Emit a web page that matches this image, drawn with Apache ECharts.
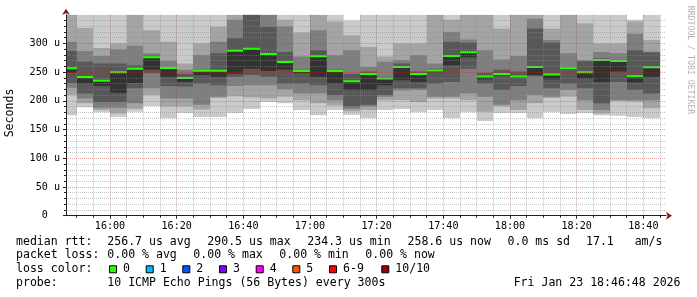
<!DOCTYPE html>
<html><head><meta charset="utf-8">
<script src="https://cdn.jsdelivr.net/npm/echarts@6/dist/echarts.min.js"></script>
<style>html,body{margin:0;padding:0;background:#fff}#c{width:697px;height:297px}</style>
</head><body><div id="c"></div>
<script>
// ---------------- data ----------------
const startTime = '15:46:48';
const endTime = '18:46:48';
// end time of every 5-minute step
const barEnd = ['15:50','15:55','16:00','16:05','16:10','16:15','16:20','16:25','16:30','16:35','16:40','16:45',
  '16:50','16:55','17:00','17:05','17:10','17:15','17:20','17:25','17:30','17:35','17:40','17:45',
  '17:50','17:55','18:00','18:05','18:10','18:15','18:20','18:25','18:30','18:35','18:40','18:45'];
// median rtt (us)
const median = [256.6,241.4,235.2,250,256,275.8,257,239.6,252.4,252.4,287.4,290.5,
  281.6,267.6,251.9,277.6,252,234.3,246.6,239,258.9,246.6,253,278,
  284.6,242.6,246.6,242.6,258.9,246,256.6,250,271,269.4,243,258.6];
// sorted rtt of the 10 pings of every step (us)
const pings = [
  [175,210,223,231,249,256.6,287,303,362,372],
  [189,196,204,213,230,241.4,268,287,327,362],
  [180,184,188,198,226,235.2,265,278,292,362],
  [172,178,188,198,214,250,265,290,300,362],
  [181,186,196,222,231,256,262,296,358,368],
  [191,210,222,248,254,275.8,279,283,323,362],
  [170,190,204,226,242,257,259,270,303,362],
  [179,190,204,225,233,239.6,247,254,265,362],
  [172,185,193,230,245,252.4,254,280,300,362],
  [172,205,207,227,242,252.4,283,303,329,362],
  [179,208,226,242,247,287.4,309,341,358,370],
  [186,206,227,245,256,290.5,355,362,368,375],
  [198,204,227,242,252,281.6,329,355,362,370],
  [196,207,220,230,254,267.6,285,330,341,362],
  [184,201,213,230,248,251.9,254,277,319,362],
  [175,196,213,227,242,277.6,288,323,356,366],
  [184,192,201,210,230,252,254,280,338,362],
  [176,182,186,190,219,234.3,247,288,314,340],
  [170,184,190,193,219,246.6,251,259,294,362],
  [184,201,207,210,227,239,242,268,277,362],
  [186,201,218,222,236,258.9,265,271,300,362],
  [180,198,219,222,233,246.6,251,280,300,362],
  [184,204,207,230,250,253,256,265,355,365],
  [170,204,207,233,262,278,303,320,341,362],
  [180,201,213,256,276,284.6,301,307,356,366],
  [165,181,207,230,237,242.6,249,288,356,368],
  [179,190,193,219,244,246.6,254,272,326,362],
  [179,184,201,226,240,242.6,251,278,355,365],
  [170,196,210,243,245,258.9,326,343,358,370],
  [180,205,207,222,237,246,301,306,326,362],
  [177,207,219,230,255,256.6,259,283,356,366],
  [179,184,201,222,239,250,269,271,335,362],
  [175,178,184,196,233,271,274,285,300,362],
  [174,200,201,233,251,269.4,271,283,300,362],
  [172,199,201,219,232,243,288,317,338,341],
  [170,187,201,213,242,258.6,284,286,306,362]
];
const timeTicks = ['16:00','16:20','16:40','17:00','17:20','17:40','18:00','18:20','18:40'];
const minorTimes = ['15:50','15:55','16:05','16:10','16:15','16:25','16:30','16:35','16:45','16:50','16:55',
  '17:05','17:10','17:15','17:25','17:30','17:35','17:45','17:50','17:55','18:05','18:10','18:15',
  '18:25','18:30','18:35','18:45'];
const yTicks = [0,50,100,150,200,250,300];
const yTickLabels = ['0  ',' 50 u','100 u','150 u','200 u','250 u','300 u'];
const yMax = 350;
const stepMinutes = 5;
const yTitle = 'Seconds';
const watermark = 'RRDTOOL / TOBI OETIKER';
const rttLabel = 'median rtt:';
const rttStats = ['256.7 us avg','290.5 us max','234.3 us min','258.6 us now','0.0 ms sd','17.1   am/s'];
const lossLabel = 'packet loss:';
const lossStats = ['0.00 % avg','0.00 % max','0.00 % min','0.00 % now'];
const lossColorLabel = 'loss color:';
const lossColors = [['0','#26ff00'],['1','#00b8ff'],['2','#0059ff'],['3','#7e00ff'],['4','#ff00ff'],['5','#ff5500'],['6-9','#ff0000'],['10/10','#a10000']];
const probeLabel = 'probe:';
const probeText = '10 ICMP Echo Pings (56 Bytes) every 300s';
const stamp = 'Fri Jan 23 18:46:48 2026';

// ---------------- helpers / style ----------------
const toMin = s => { const a = s.split(':').map(Number); return a[0]*60 + a[1] + (a[2]||0)/60; };
const fmtMin = v => { const h = Math.floor(v/60), m = Math.round(v - h*60); return String(h).padStart(2,'0') + ':' + String(m).padStart(2,'0'); };
const X_MIN = toMin(startTime), X_MAX = toMin(endTime);
const SMOKE = ['#cacaca','#a4a4a4','#7e7e7e','#585858','#323232'];
const MONO = '"DejaVu Sans Mono", monospace';
const AXIS_FONT = 10.1, LEG_FONT = 11.56;
const MINOR_GRID = 'rgba(140,140,140,0.5)';
const MAJOR_GRID = 'rgba(190,40,40,0.42)';
const ARROW = '#8b1a1a';
const MED_H = 2;

function renderItem(params, api) {
  const i = params.dataIndex;
  const t1 = api.value(0), t0 = t1 - stepMinutes;
  const a = Math.max(t0, X_MIN), b = Math.min(t1, X_MAX);
  const cy = v => Math.min(Math.max(v, 0), yMax);
  const p = pings[i];
  const kids = [];
  for (let k = 0; k < 5; k++) {
    const lo = api.coord([a, cy(p[k])]);
    const hi = api.coord([b, cy(p[9-k])]);
    const xl = Math.round(lo[0]), xr = Math.round(hi[0]);
    kids.push({type:'rect', shape:{x:xl, y:hi[1], width:xr-xl, height:lo[1]-hi[1]}, style:{fill:SMOKE[k]}});
  }
  const m0 = api.coord([a, median[i]]), m1 = api.coord([b, median[i]]);
  const xl = Math.round(m0[0]), xr = Math.round(m1[0]);
  kids.push({type:'rect', shape:{x:xl, y:m0[1]-MED_H/2, width:xr-xl, height:MED_H}, style:{fill:lossColors[0][1]}});
  return {type:'group', children:kids};
}

// legend graphics
const txt = (text, x, y, extra) => Object.assign({type:'text', style:Object.assign({text, x, y, fill:'#000', font: LEG_FONT+'px '+MONO,
  align:'left', verticalAlign:'middle', textAlign:'left', textVerticalAlign:'middle'}, extra||{})});
const graphics = [];
const L1 = 241.7, L2 = 255.2, L3 = 269.3, L4 = 283.3;
graphics.push(txt(rttLabel, 16, L1));
[107.3,207.3,307.3,407.5,507.5,586].forEach((x,i)=>graphics.push(txt(rttStats[i], x, L1)));
graphics.push(txt(lossLabel, 16, L2));
[107.3,193.3,279.3,365.3].forEach((x,i)=>graphics.push(txt(lossStats[i], x, L2)));
graphics.push(txt(lossColorLabel, 16, L3));
[109.5,146.2,182.8,219.5,256.2,292.8,329.5,381.8].forEach((x,i)=>{
  graphics.push({type:'rect', shape:{x:x, y:L3-3.5, width:7, height:7}, style:{fill:lossColors[i][1], stroke:'#000', lineWidth:1}});
  graphics.push(txt(lossColors[i][0], x+13.5, L3));
});
graphics.push(txt(probeLabel, 16, L4));
graphics.push(txt(probeText, 107.3, L4));
graphics.push(txt(stamp, 680.5, L4, {align:'right', textAlign:'right'}));
graphics.push({type:'text', x:10, y:113, rotation:Math.PI/2, style:{text:yTitle, fill:'#000', font: LEG_FONT+'px '+MONO,
  align:'center', verticalAlign:'middle', textAlign:'center', textVerticalAlign:'middle'}});
graphics.push({type:'text', x:690, y:60, rotation:-Math.PI/2, style:{text:watermark, fill:'#b4b4b4', font:'8.2px '+MONO,
  align:'center', verticalAlign:'middle', textAlign:'center', textVerticalAlign:'middle'}});

const chart = echarts.init(document.getElementById('c'), null, {renderer:'canvas'});
chart.setOption({
  animation:false,
  backgroundColor:'#fff',
  grid:{left:66, top:14.7, width:600, height:201, containLabel:false},
  xAxis:[
    {type:'value', min:X_MIN, max:X_MAX, position:'bottom', z:3,
     axisLine:{show:true, onZero:false, lineStyle:{color:'#202020', width:1}},
     axisTick:{show:true, length:3, customValues:timeTicks.map(toMin), lineStyle:{color:'#202020'}},
     axisLabel:{show:true, customValues:timeTicks.map(toMin), formatter:fmtMin, margin:6, color:'#000', fontFamily:MONO, fontSize:AXIS_FONT},
     splitLine:{show:true, lineStyle:{color:MAJOR_GRID, type:[1,1], width:1}}},
    {type:'value', min:X_MIN, max:X_MAX, position:'bottom', z:2.5,
     axisLine:{show:true, onZero:false, symbol:['none','arrow'], symbolSize:[6,6], symbolOffset:[0,6], lineStyle:{color:ARROW, width:0}},
     axisTick:{show:true, length:2, customValues:minorTimes.map(toMin), lineStyle:{color:'#202020'}},
     axisLabel:{show:false},
     splitLine:{show:true, lineStyle:{color:MINOR_GRID, type:[1,1], width:1}}}
  ],
  yAxis:[
    {type:'value', min:0, max:yMax, interval:50, position:'left', z:3,
     axisLine:{show:true, onZero:false, lineStyle:{color:'#202020', width:1}},
     axisTick:{show:true, length:3, customValues:yTicks, lineStyle:{color:'#202020'}},
     minorTick:{show:true, splitNumber:5, length:2, lineStyle:{color:'#202020'}},
     axisLabel:{show:true, customValues:yTicks, formatter:v=>yTickLabels[yTicks.indexOf(v)], margin:6, color:'#000', fontFamily:MONO, fontSize:AXIS_FONT},
     splitLine:{show:true, lineStyle:{color:MAJOR_GRID, type:[1,1], width:1}},
     minorSplitLine:{show:true, lineStyle:{color:MINOR_GRID, type:[1,1], width:1}}},
    {type:'value', min:0, max:yMax, position:'left', z:2.5,
     axisLine:{show:true, onZero:false, symbol:['none','arrow'], symbolSize:[6,6], symbolOffset:[0,6], lineStyle:{color:ARROW, width:0}},
     axisTick:{show:false}, axisLabel:{show:false}, splitLine:{show:false}}
  ],
  series:[{
    type:'custom', coordinateSystem:'cartesian2d', xAxisIndex:0, yAxisIndex:0, clip:true, z:2,
    data: barEnd.map((t,i)=>[toMin(t), median[i]]),
    renderItem: renderItem
  }],
  graphic: graphics
});
</script></body></html>
